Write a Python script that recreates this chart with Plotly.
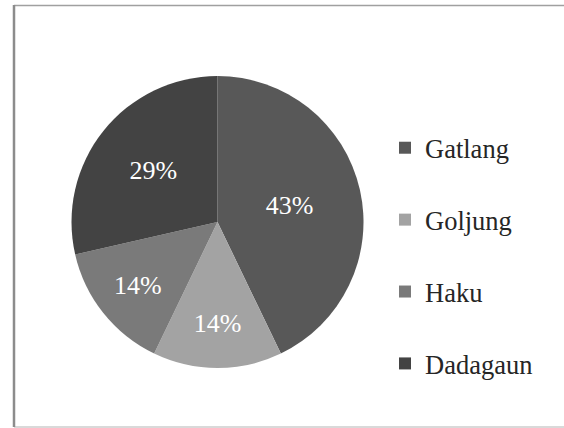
import plotly.graph_objects as go

# Aldeias e número de casos (proporções: 3/7, 1/7, 1/7, 2/7)
aldeias = ["Gatlang", "Goljung", "Haku", "Dadagaun"]
valores = [3, 1, 1, 2]
cores = ["#585858", "#a3a3a3", "#7a7a7a", "#434343"]

W, H = 564, 428
FONTE = "Liberation Serif, Times New Roman, serif"

# centro (217.5, 222) px, raio ~146 px
cx, cy, r = 217.5, 222, 146


def px(x):
    return x / W


def py(y):
    return 1 - y / H


fig = go.Figure(
    go.Pie(
        labels=[f"{a}<br> " for a in aldeias],
        values=valores,
        sort=False,
        direction="clockwise",
        rotation=0,
        marker=dict(colors=cores, line=dict(width=0)),
        texttemplate="%{percent:.0%}",
        textposition="inside",
        insidetextorientation="horizontal",
        textfont=dict(family=FONTE, size=26, color="white"),
        hoverinfo="percent+value",
        domain=dict(x=[px(cx - r), px(cx + r)], y=[py(cy + r), py(cy - r)]),
    )
)

fig.update_layout(
    width=W,
    height=H,
    margin=dict(l=0, r=0, t=0, b=0),
    paper_bgcolor="white",
    font=dict(family=FONTE, color="#262626"),
    legend=dict(
        x=px(385),
        y=py(124),
        xanchor="left",
        yanchor="top",
        valign="top",
        font=dict(family=FONTE, size=26.5, color="#262626"),
        bgcolor="rgba(0,0,0,0)",
    ),
    shapes=[
        # moldura: topo e base vão até a borda direita da imagem
        dict(type="line", xref="paper", yref="paper",
             x0=px(14), x1=1, y0=py(5.5), y1=py(5.5),
             line=dict(color="#a0a0a0", width=1.5)),
        dict(type="line", xref="paper", yref="paper",
             x0=px(14), x1=1, y0=py(427), y1=py(427),
             line=dict(color="#b4b4b4", width=1.2)),
        dict(type="line", xref="paper", yref="paper",
             x0=px(14), x1=px(14), y0=py(427), y1=py(5),
             line=dict(color="#8c8c8c", width=2.5)),
    ],
)

# sem a margem padrão de 8 px do body, a figura ocupa a janela inteira
fig.write_html(
    "out.html",
    config={"displayModeBar": False},
    post_script=(
        "document.body.style.margin='0';"
        "document.body.style.overflow='hidden';"
        "document.documentElement.style.overflow='hidden';"
    ),
)
